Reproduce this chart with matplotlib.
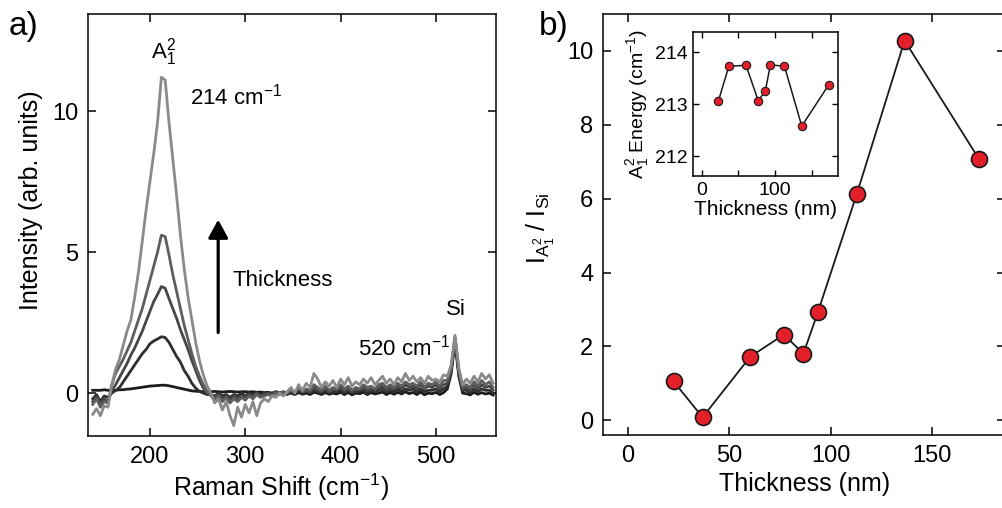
import numpy as np
import matplotlib
matplotlib.use("Agg")
import matplotlib.pyplot as plt

plt.rcParams['font.family'] = ['Liberation Sans', 'DejaVu Sans']
plt.rcParams['mathtext.default'] = 'regular'
plt.rcParams['axes.linewidth'] = 1.1

# ---- panel a: Raman spectra (sampled every 4 cm-1 from 140 to 560) ----
shift = np.arange(140, 561, 4)

spec_5 = [-0.75, -0.55, -0.8, -0.45, -0.5, 0.3, 0.85, 1.2, 1.7, 2.2,
          2.6, 3.4, 4.3, 5.4, 6.5, 7.5, 8.5, 9.6, 11.2, 11.1,
          9.6, 8.3, 7.0, 5.6, 4.4, 3.4, 2.6, 1.8, 1.15, 0.65,
          0.25, 0.0, -0.35, -0.2, -0.6, -0.3, -0.8, -1.15, -0.5, -0.85,
          -0.4, -0.7, -0.3, -0.8, -0.35, -0.2, -0.3, -0.1, -0.15, 0.0,
          -0.1, 0.05, 0.2, 0.0, 0.3, 0.1, 0.35, 0.2, 0.7, 0.5,
          0.2, 0.4, 0.25, 0.45, 0.2, 0.5, 0.3, 0.55, 0.25, 0.4,
          0.3, 0.5, 0.35, 0.55, 0.3, 0.45, 0.6, 0.35, 0.5, 0.3,
          0.55, 0.4, 0.7, 0.45, 0.6, 0.4, 0.55, 0.35, 0.6, 0.45,
          0.5, 0.4, 0.65, 0.6, 1.0, 2.05, 0.9, 0.3, 0.5, 0.35,
          0.6, 0.4, 0.7, 0.5, 0.65, 0.35]
spec_4 = [-0.4, -0.2, -0.5, -0.3, -0.35, 0.3, 0.7, 0.95, 1.2, 1.5,
          1.8, 2.2, 2.6, 3.0, 3.5, 4.0, 4.5, 5.0, 5.6, 5.55,
          4.9, 4.2, 3.6, 3.0, 2.4, 1.9, 1.4, 0.95, 0.6, 0.3,
          0.05, -0.1, -0.25, -0.1, -0.3, -0.15, -0.35, -0.2, -0.3, -0.15,
          -0.25, -0.1, -0.2, -0.05, -0.15, -0.1, -0.05, -0.1, 0.0, -0.05,
          0.05, 0.0, 0.1, 0.05, 0.2, 0.05, 0.15, 0.1, 0.3, 0.2,
          0.1, 0.25, 0.1, 0.2, 0.15, 0.3, 0.15, 0.25, 0.1, 0.2,
          0.15, 0.3, 0.2, 0.25, 0.15, 0.3, 0.35, 0.2, 0.3, 0.2,
          0.35, 0.25, 0.4, 0.3, 0.35, 0.25, 0.4, 0.2, 0.35, 0.3,
          0.4, 0.25, 0.45, 0.45, 0.9, 2.0, 0.8, 0.2, 0.3, 0.2,
          0.4, 0.25, 0.45, 0.3, 0.4, 0.2]
spec_3 = [-0.3, -0.15, -0.4, -0.2, -0.3, 0.1, 0.3, 0.55, 0.8, 1.05,
          1.35, 1.6, 1.9, 2.2, 2.55, 2.9, 3.25, 3.5, 3.78, 3.72,
          3.35, 3.0, 2.65, 2.25, 1.9, 1.55, 1.15, 0.8, 0.45, 0.18,
          0.0, -0.05, -0.15, -0.05, -0.2, -0.1, -0.25, -0.1, -0.2, -0.1,
          -0.15, -0.05, -0.1, 0.0, -0.1, -0.05, 0.0, -0.05, 0.05, 0.0,
          0.05, 0.0, 0.1, 0.0, 0.15, 0.05, 0.1, 0.05, 0.2, 0.1,
          0.05, 0.15, 0.05, 0.15, 0.1, 0.2, 0.1, 0.15, 0.05, 0.15,
          0.1, 0.2, 0.1, 0.15, 0.1, 0.2, 0.25, 0.1, 0.2, 0.15,
          0.25, 0.15, 0.3, 0.2, 0.25, 0.15, 0.3, 0.15, 0.25, 0.2,
          0.3, 0.15, 0.3, 0.35, 0.85, 1.95, 0.75, 0.15, 0.2, 0.1,
          0.3, 0.15, 0.3, 0.2, 0.25, 0.1]
spec_2 = [-0.2, -0.05, -0.3, -0.1, -0.15, 0.0, 0.1, 0.2, 0.4, 0.6,
          0.8, 1.0, 1.2, 1.4, 1.55, 1.75, 1.85, 1.92, 2.0, 1.97,
          1.8, 1.55, 1.3, 1.1, 0.8, 0.6, 0.35, 0.18, 0.06, 0.0,
          -0.05, -0.05, -0.1, 0.0, -0.1, -0.05, -0.15, -0.05, -0.1, 0.0,
          -0.1, 0.0, -0.05, 0.0, -0.05, 0.0, -0.05, 0.0, 0.05, 0.0,
          0.0, -0.05, 0.05, 0.0, 0.1, 0.0, 0.05, 0.0, 0.1, 0.05,
          0.0, 0.1, 0.0, 0.05, 0.05, 0.1, 0.0, 0.1, 0.0, 0.05,
          0.05, 0.1, 0.0, 0.1, 0.05, 0.1, 0.15, 0.05, 0.1, 0.05,
          0.15, 0.05, 0.15, 0.1, 0.15, 0.05, 0.15, 0.05, 0.1, 0.1,
          0.15, 0.05, 0.15, 0.25, 0.8, 1.9, 0.7, 0.1, 0.1, 0.0,
          0.15, 0.05, 0.15, 0.1, 0.1, 0.0]
spec_1 = [0.1, 0.1, 0.1, 0.12, 0.1, 0.1, 0.1, 0.12, 0.12, 0.14,
          0.15, 0.17, 0.19, 0.21, 0.23, 0.25, 0.26, 0.27, 0.28, 0.28,
          0.26, 0.23, 0.2, 0.17, 0.14, 0.11, 0.08, 0.07, 0.06, 0.05,
          0.05, 0.05, 0.06, 0.05, 0.04, 0.05, 0.06, 0.05, 0.04, 0.05,
          0.05, 0.04, 0.05, 0.03, 0.04, 0.02, 0.03, 0.0, 0.02, 0.0,
          0.02, -0.03, 0.0, -0.05, 0.02, -0.04, 0.0, -0.05, 0.03, 0.0,
          -0.05, 0.02, -0.04, 0.0, -0.03, 0.03, -0.05, 0.02, -0.06, 0.0,
          -0.02, 0.03, -0.05, 0.02, -0.03, 0.0, 0.04, -0.05, 0.02, -0.04,
          0.03, -0.03, 0.05, -0.02, 0.03, -0.05, 0.04, -0.06, 0.0, -0.02,
          0.03, -0.05, 0.02, 0.15, 0.7, 1.8, 0.6, 0.0, -0.02, -0.06,
          0.03, -0.04, 0.02, -0.03, 0.0, -0.07]

spectra = [spec_1, spec_2, spec_3, spec_4, spec_5]
spec_colors = ['#1c1c1c', '#2f2f2f', '#474747', '#5e5e5e', '#8a8a8a']

# ---- panel b: intensity ratio and peak energy vs thickness ----
thickness = [22.5, 36.8, 60.3, 76.9, 86.5, 93.6, 112.8, 136.4, 173.0]
ratio = [1.05, 0.08, 1.72, 2.32, 1.8, 2.92, 6.12, 10.28, 7.08]
energy = [213.06, 213.73, 213.75, 213.07, 213.25, 213.76, 213.73, 212.58, 213.37]

fig = plt.figure(figsize=(10.03, 5.08), dpi=100)

tick_kw = dict(direction='in', top=True, right=True, length=6, width=1.1,
               labelsize=17, pad=7)

# panel a
ax1 = fig.add_axes([0.0877, 0.1417, 0.4068, 0.8307])
for s, c in zip(spectra, spec_colors):
    ax1.plot(shift, s, color=c, lw=2.0)
ax1.set_xlim(135, 563)
ax1.set_ylim(-1.52, 13.44)
ax1.set_xticks([200, 300, 400, 500])
ax1.set_yticks([0, 5, 10])
ax1.tick_params(**tick_kw)
ax1.set_xlabel('Raman Shift (cm$^{-1}$)', fontsize=18, labelpad=4)
ax1.set_ylabel('Intensity (arb. units)', fontsize=18, labelpad=6)
ax1.xaxis.set_label_coords(0.473, -0.085)
ax1.yaxis.set_label_coords(-0.11, 0.56)

ax1.text(214, 11.85, '$A_1^2$', fontsize=16, ha='center', va='baseline')
ax1.text(242, 10.5, '214 cm$^{-1}$', fontsize=16, ha='left', va='center')
ax1.text(287, 4.0, 'Thickness', fontsize=16, ha='left', va='center')
ax1.text(520.5, 2.95, 'Si', fontsize=16, ha='center', va='center')
ax1.text(418, 1.63, '520 cm$^{-1}$', fontsize=16, ha='left', va='center')
ax1.annotate('', xy=(271.6, 6.15), xytext=(271.6, 2.15),
             arrowprops=dict(arrowstyle='-|>,head_length=0.55,head_width=0.3',
                             mutation_scale=20, shrinkA=0, shrinkB=0,
                             color='black', lw=2.3))

fig.text(0.009, 0.978, 'a)', fontsize=24, ha='left', va='top')
fig.text(0.537, 0.978, 'b)', fontsize=24, ha='left', va='top')

# panel b
ax2 = fig.add_axes([0.6012, 0.1437, 0.401, 0.8287])
ax2.plot(thickness, ratio, color='#1a1a1a', lw=1.3, marker='o', ms=11.5,
         mfc='#e3202a', mec='#1a1a1a', mew=1.2)
ax2.set_xlim(-12.3, 186)
ax2.set_ylim(-0.4, 11.0)
ax2.set_xticks([0, 50, 100, 150])
ax2.set_yticks([0, 2, 4, 6, 8, 10])
ax2.tick_params(**tick_kw)
ax2.set_xlabel('Thickness (nm)', fontsize=18, labelpad=4)
ax2.set_ylabel('$I_{A_1^2}$ / $I_{Si}$', fontsize=18, labelpad=8)
ax2.yaxis.set_label_coords(-0.115, 0.49)

# inset
ax3 = fig.add_axes([0.691, 0.6535, 0.1446, 0.2835])
ax3.plot(thickness, energy, color='#1a1a1a', lw=1.1, marker='o', ms=6,
         mfc='#e3202a', mec='#1a1a1a', mew=0.8)
ax3.set_xlim(-12, 186)
ax3.set_ylim(211.62, 214.39)
ax3.set_xticks([0, 100])
ax3.set_xticks([50, 150], minor=True)
ax3.set_yticks([212, 213, 214])
ax3.tick_params(which='both', direction='in', top=True, right=True,
                length=4, width=1.0, labelsize=14, pad=4)
ax3.set_xlabel('Thickness (nm)', fontsize=15, labelpad=1)
ax3.set_ylabel('$A_1^2$ Energy (cm$^{-1}$)', fontsize=14, labelpad=3)

fig.savefig('out.png', dpi=100)
